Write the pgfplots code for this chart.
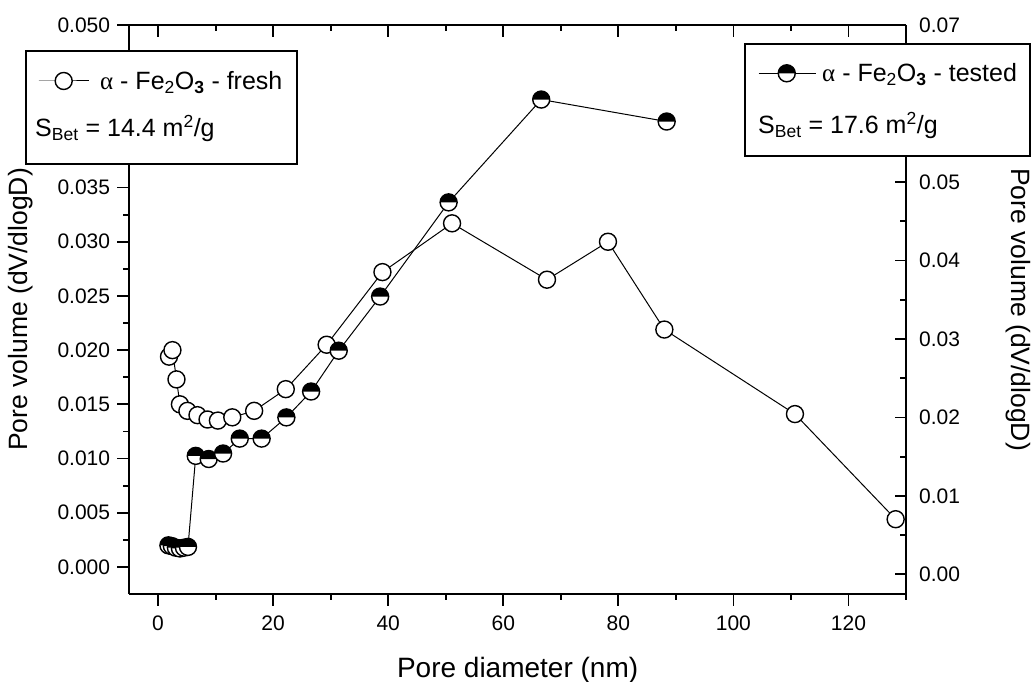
\documentclass[border=0pt]{standalone}
\usepackage{fontspec}
\setmainfont{Liberation Sans}
\newfontfamily\greekfont{Liberation Serif}
\usepackage{pgfplots}
\usepackage{pgfplotstable}
\pgfplotsset{compat=1.18}

\pgfdeclareplotmark{halfcirc}{%
  \pgfpathcircle{\pgfpointorigin}{\pgfplotmarksize}%
  \pgfsetfillcolor{white}\pgfusepathqfill
  \pgfpathmoveto{\pgfqpoint{-\pgfplotmarksize}{0pt}}%
  \pgfpatharc{180}{0}{\pgfplotmarksize}%
  \pgfpathclose
  \pgfsetfillcolor{black}\pgfusepathqfill
  \pgfpathcircle{\pgfpointorigin}{\pgfplotmarksize}%
  \pgfusepathqstroke
}

\pgfplotstableread{
d v
1.9 0.0194
2.5 0.0200
3.2 0.0173
3.8 0.0150
5.1 0.0144
6.85 0.0140
8.6 0.0136
10.4 0.0135
12.9 0.0138
16.7 0.0144
22.2 0.0164
29.3 0.0205
39.0 0.0272
51.1 0.0317
67.6 0.0265
78.2 0.0300
88.0 0.0219
110.7 0.0141
128.2 0.0044
}\freshtab

\pgfplotstableread{
d v
1.8 0.0037
2.4 0.0036
3.1 0.0034
3.8 0.0033
4.5 0.0034
5.2 0.0035
6.55 0.0151
8.8 0.0147
11.3 0.0154
14.2 0.0173
18.0 0.0173
22.3 0.0200
26.6 0.0233
31.4 0.0285
38.6 0.0354
50.5 0.0474
66.6 0.0605
88.4 0.0577
}\testedtab

\newcommand{\tickfont}{\fontsize{21}{21}\selectfont}
\newcommand{\legfont}{\fontsize{25}{25}\selectfont}
\newcommand{\labfont}{\fontsize{28}{28}\selectfont}
\newcommand{\ylabfont}{\fontsize{26.5}{26.5}\selectfont}

\pgfplotsset{
  base/.style={scale only axis, width=776.7pt, height=569pt,
    at={(129.3pt,88pt)}, anchor=south west, xmin=-5, xmax=130,
    axis line style={line width=2pt, black},
    every tick/.append style={line width=1.8pt, black},
    major tick length=12pt, minor tick length=6pt,
    tick label style={font=\tickfont, /pgf/number format/assume math mode=true},
    label style={font=\labfont},
    xtick={0,20,40,60,80,100,120}, minor xtick={10,30,50,70,90,110,130},
  },
  fresh/.style={black, line width=1pt, mark=*, mark size=8.5pt,
    mark options={fill=white, line width=1.4pt}},
  tested/.style={black, line width=1pt, mark=halfcirc, mark size=8.5pt,
    mark options={line width=1.4pt}},
}

\begin{document}
\begin{tikzpicture}
\path[use as bounding box] (0,0) rectangle (1034pt,682pt);

\begin{axis}[base, axis x line*=bottom, axis y line*=left, tick align=outside,
  ymin=-0.0025, ymax=0.05,
  ytick={0,0.005,0.01,0.015,0.02,0.025,0.03,0.035,0.04,0.045,0.05},
  minor ytick={0.0025,0.0075,0.0125,0.0175,0.0225,0.0275,0.0325,0.0375,0.0425,0.0475},
  scaled y ticks=false,
  yticklabel style={/pgf/number format/fixed, /pgf/number format/fixed zerofill, /pgf/number format/precision=3},
  xticklabel style={anchor=north, inner sep=0pt, yshift=-10pt},
  yticklabel style={anchor=east, inner sep=0pt, xshift=-7pt},
  xlabel={Pore diameter (nm)},
  xlabel style={at={(axis description cs:0.5,-0.1459)}, anchor=base},
  ylabel={Pore volume (dV/dlogD)},
  ylabel style={at={(axis description cs:-0.1395,0.5)}, anchor=center, font=\ylabfont},
]
\addplot[fresh] table[x=d,y=v] {\freshtab};
\end{axis}

\begin{axis}[base, axis y line*=right, axis x line=none, tick align=inside,
  ymin=-0.0025, ymax=0.07,
  ytick={0,0.01,0.02,0.03,0.04,0.05,0.06,0.07},
  minor ytick={0.005,0.015,0.025,0.035,0.045,0.055,0.065},
  major tick length=11pt,
  scaled y ticks=false,
  yticklabel style={/pgf/number format/fixed, /pgf/number format/fixed zerofill, /pgf/number format/precision=2},
  yticklabel style={anchor=west, inner sep=0pt, xshift=13pt},
  ylabel={Pore volume (dV/dlogD)},
  ylabel style={at={(axis description cs:1.144,0.5)}, anchor=center, rotate=180, font=\ylabfont},
]
\addplot[tested] table[x=d,y=v] {\testedtab};
\end{axis}

\begin{axis}[base, axis x line*=top, axis y line=none, tick align=inside,
  ymin=0, ymax=1, xticklabels={}]
\end{axis}

\draw[line width=1.2pt, fill=white] (26pt,518pt) rectangle (297pt,631pt);
\draw[line width=1.2pt, fill=white] (745pt,526pt) rectangle (1030pt,638pt);

\begin{axis}[base, hide axis, ymin=0, ymax=1,
  legend style={at={(axis description cs:-0.11755,0.90158)}, anchor=west,
    draw=none, fill=none, inner sep=0pt, font=\legfont, column sep=9pt},
  legend image code/.code={\draw[mark repeat=2,mark phase=2] plot coordinates {(0pt,0pt)(25pt,0pt)(50pt,0pt)};}]
\addlegendimage{fresh}
\addlegendentry{{\greekfont α} - Fe\textsubscript{2}O\textsubscript{\textbf{3}} - fresh}
\end{axis}

\begin{axis}[base, hide axis, ymin=0, ymax=1,
  legend style={at={(axis description cs:0.8095,0.9151)}, anchor=west,
    draw=none, fill=none, inner sep=0pt, font=\legfont, column sep=4pt},
  legend image code/.code={\draw[mark repeat=2,mark phase=2] plot coordinates {(0pt,0pt)(28pt,0pt)(57pt,0pt)};}]
\addlegendimage{tested}
\addlegendentry{{\greekfont α} - Fe\textsubscript{2}O\textsubscript{\textbf{3}} - tested}
\end{axis}

\node[anchor=base west, inner sep=0pt, font=\legfont] at (35pt,545pt) {S\textsubscript{Bet} = 14.4 m\textsuperscript{2}/g};
\node[anchor=base west, inner sep=0pt, font=\legfont] at (758pt,548pt) {S\textsubscript{Bet} = 17.6 m\textsuperscript{2}/g};
\end{tikzpicture}
\end{document}
